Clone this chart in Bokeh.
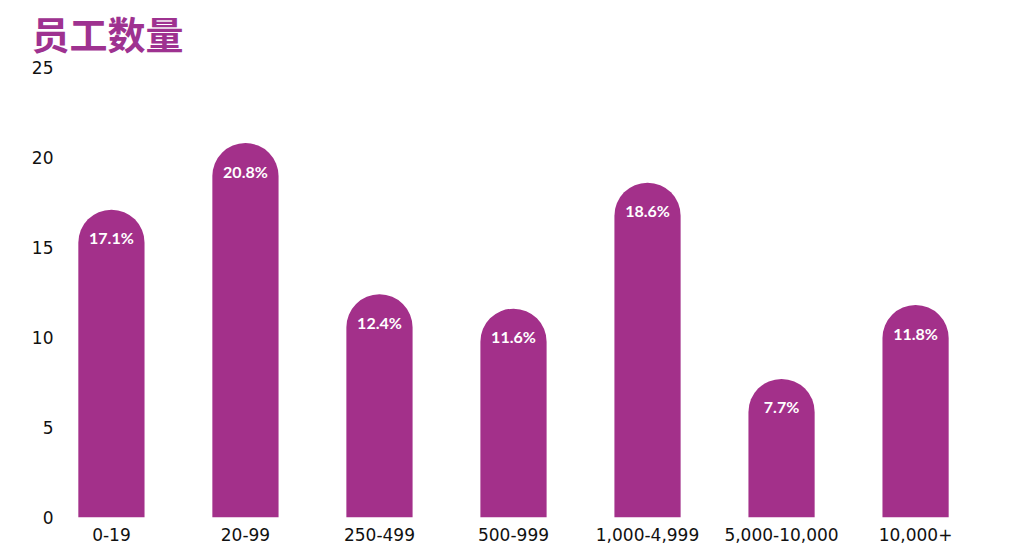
from bokeh.plotting import figure
from bokeh.models import FactorRange, Range1d, ColumnDataSource, FixedTicker
from bokeh.core.properties import value
from bokeh.embed import file_html
from bokeh.resources import INLINE

title_text = "员工数量"
categories = ["0-19", "20-99", "250-499", "500-999", "1,000-4,999", "5,000-10,000", "10,000+"]
values = [17.1, 20.8, 12.4, 11.6, 18.6, 7.7, 11.8]
labels = ["17.1%", "20.8%", "12.4%", "11.6%", "18.6%", "7.7%", "11.8%"]
y_ticks = [0, 5, 10, 15, 20, 25]

BAR = "#A3308A"
TICK_FONT = "DejaVu Sans"
LABEL_FONT = "Lato"

src = ColumnDataSource(dict(cat=categories, val=values, lab=labels))

p = figure(
    x_range=FactorRange(*categories, range_padding=-0.12, range_padding_units="absolute"),
    y_range=Range1d(0, 25),
    width=990, height=553,
    output_backend="svg", toolbar_location=None,
    min_border_left=60, min_border_right=24, min_border_top=67, min_border_bottom=36,
)
p.title.text = title_text
p.title.text_font = "Lato, Noto Sans CJK SC"
p.title.text_font_size = "38px"
p.title.text_font_style = "bold"
p.title.text_color = "#9E3290"
p.title.align = "left"
p.title.vertical_align = "top"
p.title.offset = -29
p.title.standoff = 17

p.outline_line_color = None
p.xgrid.grid_line_color = None
p.ygrid.grid_line_color = None

p.vbar(x="cat", top="val", bottom=0, width=0.494, source=src,
       fill_color=BAR, line_color=None, border_radius=(33, 33, 0, 0))

p.text(x="cat", y="val", text="lab", source=src, y_offset=28,
       text_align="center", text_baseline="middle",
       text_color="white", text_font=value(LABEL_FONT), text_font_style="bold",
       text_font_size="16px")

for ax in (p.xaxis[0], p.yaxis[0]):
    ax.axis_line_color = None
    ax.major_tick_line_color = None
    ax.minor_tick_line_color = None
    ax.major_tick_out = 0
    ax.major_tick_in = 0
    ax.major_label_text_font = TICK_FONT
    ax.major_label_text_font_size = "17px"
    ax.major_label_text_color = "#111111"

p.yaxis[0].ticker = FixedTicker(ticks=y_ticks)
p.yaxis[0].major_label_standoff = 7
p.xaxis[0].major_label_standoff = 10

open("out.html", "w").write(file_html(p, INLINE))
